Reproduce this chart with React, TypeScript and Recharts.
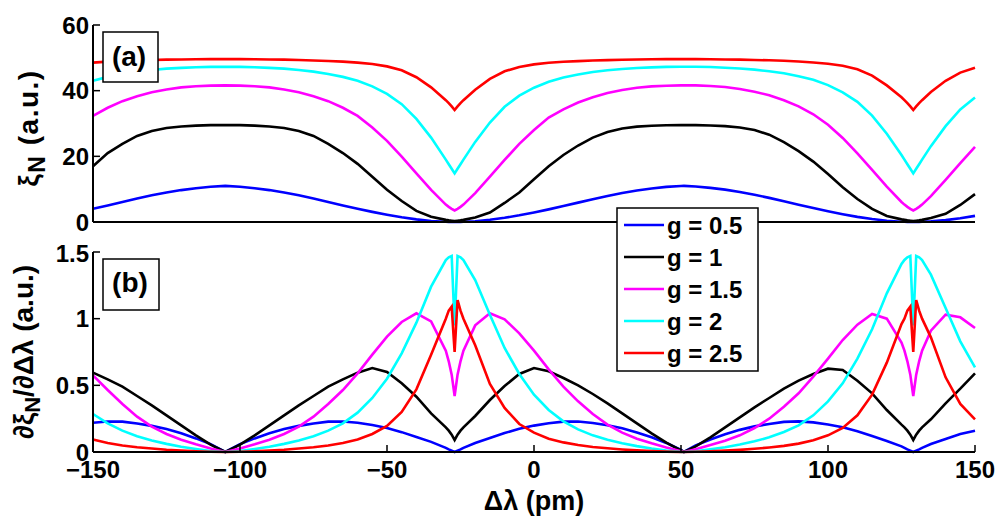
import { LineChart, Line, XAxis, YAxis } from "recharts"

// detuning (pm)
const lambda = [
    -150, -145, -140, -135, -130, -125, -120, -115, -110, -105,
    -100, -95, -90, -85, -80, -75, -70, -65, -60, -55,
    -50, -45, -40, -35, -30,
    -29, -28, -27, -26, -25, -24,
    -20, -15, -10, -5, 0,
    5, 10, 15, 20, 25, 30, 35, 40, 45, 50,
    51,
    55, 60, 65, 70, 75, 80, 85, 90, 95, 100,
    105, 110, 115, 120, 125,
    126, 127, 128, 129, 130, 131, 132,
    135, 140, 145, 150
]

// panel (a): xi_N
const xiG05 = [
    4.05, 5.05, 6.1, 7.15, 8.15, 9.0, 9.72, 10.3, 10.75, 11.0,
    10.75, 10.3, 9.72, 9.0, 8.15, 7.15, 6.1, 5.05, 4.05, 3.08,
    2.2, 1.42, 0.8, 0.32, 0.06,
    0.03, 0.01, 0, 0.01, 0.03, 0.06,
    0.25, 0.68, 1.28, 2.03, 2.9,
    3.85, 4.85, 5.9, 6.95, 7.95, 8.85, 9.6, 10.2, 10.7, 10.95,
    11.0,
    10.8, 10.4, 9.85, 9.15, 8.3, 7.35, 6.3, 5.25, 4.25, 3.27,
    2.37, 1.57, 0.92, 0.4, 0.09,
    0.06, 0.03, 0.01, 0, 0.01, 0.03, 0.06,
    0.18, 0.58, 1.15, 1.87
]
const xiG1 = [
    17.0, 21.0, 23.8, 26.2, 27.7, 28.65, 29.1, 29.35, 29.5, 29.5,
    29.5, 29.35, 29.1, 28.65, 27.7, 26.2, 23.8, 21.0, 17.7, 13.8,
    9.8, 6.4, 3.4, 1.6, 0.65,
    0.5, 0.4, 0.3, 0.4, 0.5, 0.65,
    1.4, 2.9, 5.8, 9.0, 13.0,
    17.0, 20.4, 23.3, 25.7, 27.4, 28.5, 29.05, 29.3, 29.45, 29.5,
    29.5,
    29.5, 29.4, 29.2, 28.8, 28.0, 26.6, 24.3, 21.6, 18.4, 14.6,
    10.6, 7.0, 4.0, 1.85, 0.8,
    0.65, 0.5, 0.4, 0.3, 0.4, 0.5, 0.65,
    1.2, 2.5, 5.2, 8.5
]
const xiG15 = [
    32.3, 34.8, 36.8, 38.3, 39.5, 40.35, 41.0, 41.35, 41.55, 41.6,
    41.55, 41.35, 41.0, 40.35, 39.5, 38.3, 36.8, 34.8, 32.3, 28.8,
    24.7, 19.9, 14.8, 9.8, 5.3,
    4.6, 4.0, 3.5, 4.0, 4.6, 5.3,
    8.8, 13.8, 18.9, 23.8, 28.0,
    31.8, 34.3, 36.4, 38.0, 39.3, 40.2, 40.9, 41.3, 41.5, 41.6,
    41.6,
    41.6, 41.4, 41.1, 40.5, 39.7, 38.6, 37.1, 35.2, 32.8, 29.6,
    25.6, 20.9, 15.9, 10.8, 6.1,
    5.3, 4.6, 4.0, 3.5, 4.0, 4.6, 5.3,
    7.9, 12.8, 17.9, 22.9
]
const xiG2 = [
    43.0, 44.2, 45.1, 45.8, 46.3, 46.7, 46.95, 47.15, 47.25, 47.3,
    47.25, 47.15, 46.95, 46.7, 46.3, 45.8, 45.1, 44.2, 43.0, 41.3,
    39.0, 35.9, 31.4, 25.7, 19.0,
    17.6, 16.2, 14.8, 16.2, 17.6, 19.0,
    24.4, 30.3, 35.1, 38.5, 40.9,
    42.7, 44.0, 44.9, 45.7, 46.2, 46.6, 46.9, 47.1, 47.25, 47.3,
    47.3,
    47.3, 47.2, 47.0, 46.75, 46.4, 45.9, 45.3, 44.4, 43.3, 41.7,
    39.5, 36.6, 32.4, 26.9, 20.4,
    19.0, 17.6, 16.2, 14.8, 16.2, 17.6, 19.0,
    23.1, 29.2, 34.3, 37.9
]
const xiG25 = [
    48.55, 48.85, 49.05, 49.2, 49.35, 49.45, 49.5, 49.55, 49.6, 49.6,
    49.6, 49.55, 49.5, 49.45, 49.35, 49.2, 49.05, 48.85, 48.55, 48.1,
    47.4, 46.2, 44.1, 41.0, 37.1,
    36.2, 35.2, 34.1, 35.2, 36.2, 37.1,
    40.3, 43.6, 45.9, 47.2, 48.0,
    48.5, 48.8, 49.0, 49.2, 49.3, 49.4, 49.5, 49.55, 49.6, 49.6,
    49.6,
    49.6, 49.55, 49.5, 49.45, 49.35, 49.25, 49.1, 48.9, 48.6, 48.2,
    47.6, 46.5, 44.6, 41.6, 38.0,
    37.1, 36.2, 35.2, 34.1, 35.2, 36.2, 37.1,
    39.6, 43.0, 45.5, 47.0
]

// panel (b): d xi_N / d delta-lambda
const dxiG05 = [
    0.219, 0.229, 0.228, 0.214, 0.196, 0.172, 0.14, 0.102, 0.059, 0,
    0.059, 0.102, 0.14, 0.172, 0.196, 0.214, 0.228, 0.229, 0.219, 0.202,
    0.18, 0.149, 0.113, 0.076, 0.031,
    0.02, 0.01, 0, 0.01, 0.02, 0.031,
    0.068, 0.105, 0.142, 0.174, 0.198,
    0.216, 0.228, 0.229, 0.218, 0.2, 0.178, 0.147, 0.11, 0.068, 0.015,
    0,
    0.05, 0.094, 0.133, 0.166, 0.192, 0.21, 0.226, 0.23, 0.222, 0.206,
    0.185, 0.156, 0.12, 0.083, 0.042,
    0.031, 0.02, 0.01, 0, 0.01, 0.02, 0.031,
    0.06, 0.098, 0.135, 0.16
]
const dxiG1 = [
    0.595, 0.545, 0.49, 0.42, 0.35, 0.275, 0.2, 0.125, 0.055, 0,
    0.055, 0.125, 0.2, 0.275, 0.35, 0.42, 0.49, 0.545, 0.595, 0.63,
    0.6, 0.515, 0.415, 0.29, 0.185,
    0.16, 0.13, 0.09, 0.13, 0.16, 0.185,
    0.27, 0.39, 0.495, 0.585, 0.63,
    0.605, 0.555, 0.5, 0.435, 0.365, 0.29, 0.215, 0.14, 0.07, 0.012,
    0,
    0.042, 0.11, 0.185, 0.26, 0.335, 0.405, 0.475, 0.535, 0.585, 0.625,
    0.615, 0.535, 0.44, 0.315, 0.205,
    0.185, 0.16, 0.13, 0.09, 0.13, 0.16, 0.185,
    0.245, 0.365, 0.475, 0.59
]
const dxiG15 = [
    0.575, 0.465, 0.36, 0.265, 0.19, 0.135, 0.092, 0.058, 0.027, 0,
    0.027, 0.058, 0.092, 0.135, 0.19, 0.265, 0.36, 0.465, 0.59, 0.73,
    0.865, 0.975, 1.04, 0.98, 0.76,
    0.68, 0.58, 0.42, 0.58, 0.68, 0.76,
    0.95, 1.04, 0.995, 0.89, 0.76,
    0.62, 0.49, 0.38, 0.285, 0.205, 0.145, 0.1, 0.065, 0.033, 0.005,
    0,
    0.021, 0.052, 0.085, 0.125, 0.18, 0.25, 0.34, 0.44, 0.565, 0.7,
    0.84, 0.955, 1.035, 1.0, 0.82,
    0.76, 0.68, 0.58, 0.42, 0.58, 0.68, 0.76,
    0.91, 1.03, 1.01, 0.93
]
const dxiG2 = [
    0.285, 0.215, 0.16, 0.118, 0.086, 0.061, 0.04, 0.023, 0.008, 0,
    0.008, 0.023, 0.04, 0.061, 0.086, 0.118, 0.16, 0.215, 0.295, 0.405,
    0.55, 0.74, 0.97, 1.24, 1.44,
    1.46, 1.47, 0.95, 1.47, 1.46, 1.44,
    1.29, 1.03, 0.78, 0.585, 0.43,
    0.315, 0.23, 0.17, 0.125, 0.092, 0.066, 0.044, 0.026, 0.011, 0.001,
    0,
    0.006, 0.02, 0.036, 0.056, 0.08, 0.11, 0.15, 0.2, 0.275, 0.38,
    0.515, 0.7, 0.92, 1.19, 1.41,
    1.44, 1.46, 1.47, 0.95, 1.47, 1.46, 1.44,
    1.33, 1.08, 0.83, 0.635
]
const dxiG25 = [
    0.094, 0.067, 0.049, 0.036, 0.026, 0.017, 0.011, 0.006, 0.002, 0,
    0.002, 0.006, 0.011, 0.017, 0.026, 0.036, 0.049, 0.067, 0.094, 0.135,
    0.195, 0.3, 0.47, 0.73, 1.0,
    1.06, 1.09, 0.75, 1.14, 1.06, 1.0,
    0.8, 0.51, 0.33, 0.21, 0.145,
    0.1, 0.072, 0.052, 0.038, 0.028, 0.019, 0.012, 0.007, 0.003, 0,
    0,
    0.002, 0.005, 0.01, 0.016, 0.024, 0.034, 0.046, 0.063, 0.088, 0.125,
    0.18, 0.275, 0.43, 0.67, 0.96,
    1.0, 1.06, 1.09, 0.75, 1.14, 1.06, 1.0,
    0.86, 0.56, 0.36, 0.245
]

const gNames = ["g = 0.5", "g = 1", "g = 1.5", "g = 2", "g = 2.5"]
const gColors = ["#0000ff", "#000000", "#ff00ff", "#00ffff", "#ff0000"]

const xTicks = [-150, -100, -50, 0, 50, 100, 150]
const xiTicks = [0, 20, 40, 60]
const dxiTicks = [0, 0.5, 1, 1.5]

const xiSeries = [xiG05, xiG1, xiG15, xiG2, xiG25]
const dxiSeries = [dxiG05, dxiG1, dxiG15, dxiG2, dxiG25]

const toRows = (series: number[][]) =>
    lambda.map((x, i) => {
        const row: Record<string, number> = { x }
        series.forEach((s, k) => { row["s" + k] = s[i] })
        return row
    })

const xiData = toRows(xiSeries)
const dxiData = toRows(dxiSeries)

const FONT = "'Liberation Sans', Arial, sans-serif"
const tickStyle = { fill: "#000", fontSize: 24, fontWeight: "bold", fontFamily: FONT }
const axisLine = { stroke: "#000", strokeWidth: 2 }
const tickLine = { stroke: "#000", strokeWidth: 1.5 }
const minus = (v: number) => String(v).replace("-", "\u2212")

const Panel = ({ data, yTicks, yMax, height, top, bottom, xLabels }: {
    data: Record<string, number>[], yTicks: number[], yMax: number,
    height: number, top: number, bottom: number, xLabels: boolean
}) => (
    <LineChart width={1004} height={height} data={data}
        margin={{ top, right: 29, left: 33, bottom: 0 }}>
        <XAxis dataKey="x" type="number" domain={[-150, 150]} ticks={xTicks}
            height={bottom} tickSize={-7} tickMargin={16}
            axisLine={axisLine} tickLine={tickLine}
            tick={xLabels ? tickStyle : false} tickFormatter={minus} />
        <XAxis xAxisId="top" orientation="top" dataKey="x" type="number"
            domain={[-150, 150]} ticks={xTicks} height={0} tickSize={-7}
            axisLine={axisLine} tickLine={tickLine} tick={false} />
        <YAxis type="number" domain={[0, yMax]} ticks={yTicks} width={60}
            tickSize={-7} tickMargin={11} axisLine={axisLine} tickLine={tickLine}
            tick={tickStyle} />
        <YAxis yAxisId="r" orientation="right" type="number" domain={[0, yMax]}
            ticks={yTicks} width={0} tickSize={-7} axisLine={axisLine}
            tickLine={tickLine} tick={false} />
        {gNames.map((name, k) => (
            <Line key={name} name={name} dataKey={"s" + k} type="linear"
                stroke={gColors[k]} strokeWidth={2.6} dot={false}
                isAnimationActive={false} />
        ))}
    </LineChart>
)

export default function App() {
    const bold = { fontFamily: FONT, fontWeight: "bold", fill: "#000" } as const
    return (
        <div style={{ position: "absolute", left: 0, top: 0, width: 1004, height: 518, background: "#fff" }}>
            <div style={{ position: "absolute", left: 0, top: 0 }}>
                <Panel data={xiData} yTicks={xiTicks} yMax={60} height={240}
                    top={25} bottom={18} xLabels={false} />
            </div>
            <div style={{ position: "absolute", left: 0, top: 240 }}>
                <Panel data={dxiData} yTicks={dxiTicks} yMax={1.5} height={278}
                    top={12} bottom={66} xLabels={true} />
            </div>
            <svg width={1004} height={518} style={{ position: "absolute", left: 0, top: 0, pointerEvents: "none" }}>
                <rect x={103} y={32} width={55} height={50} fill="#fff" stroke="#000" strokeWidth={1.5} />
                <text x={129} y={66} textAnchor="middle" fontSize={28} {...bold}>(a)</text>
                <rect x={103} y={259} width={56} height={51} fill="#fff" stroke="#000" strokeWidth={1.5} />
                <text x={130} y={292} textAnchor="middle" fontSize={28} {...bold}>(b)</text>

                <text x={38} y={128} textAnchor="middle" fontSize={28} letterSpacing={1.5} {...bold}
                    transform="rotate(-90 38 128)">
                    ξ<tspan dy={7} fontSize={23}>N</tspan><tspan dy={-7}> (a.u.)</tspan>
                </text>
                <text x={33} y={352} textAnchor="middle" fontSize={28} {...bold}
                    transform="rotate(-90 33 352)">
                    ∂ξ<tspan dy={7} fontSize={22}>N</tspan><tspan dy={-7}>/∂Δλ (a.u.)</tspan>
                </text>
                <text x={534} y={510} textAnchor="middle" fontSize={27} {...bold}>Δλ (pm)</text>

                <rect x={617} y={208} width={141} height={163} fill="#fff" stroke="#000" strokeWidth={1.5} />
                {gNames.map((name, k) => (
                    <g key={name}>
                        <line x1={624} x2={664} y1={225 + 32 * k} y2={225 + 32 * k}
                            stroke={gColors[k]} strokeWidth={2.6} />
                        <text x={667} y={234 + 32 * k} fontSize={24} {...bold}>{name}</text>
                    </g>
                ))}
            </svg>
        </div>
    )
}
